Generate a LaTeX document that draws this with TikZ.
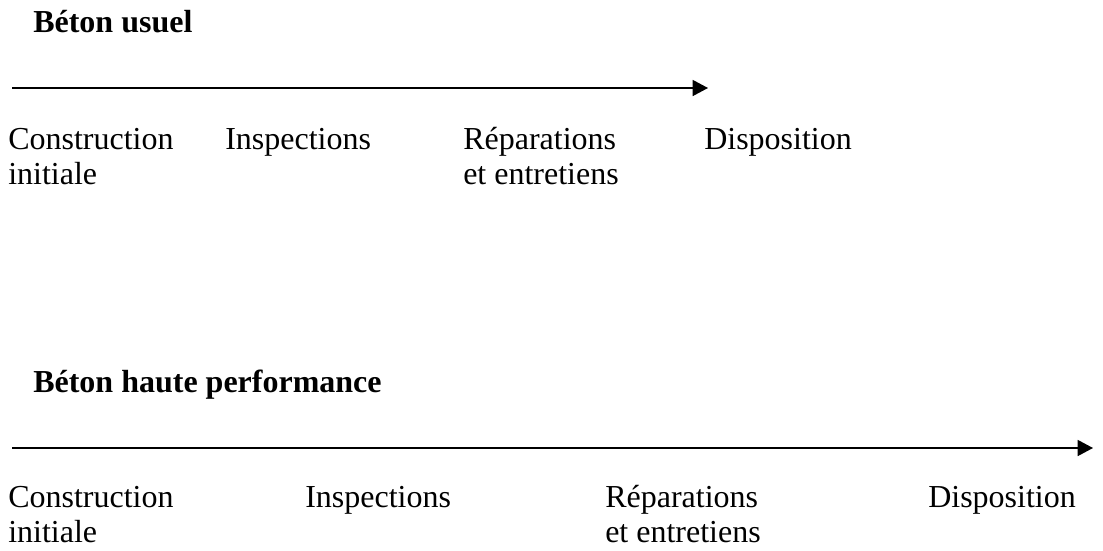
\documentclass[tikz,border=0pt]{standalone}
\usepackage{fontspec}
\setmainfont{Liberation Serif}
\usetikzlibrary{arrows.meta, positioning}
\tikzset{
    phase/.style={anchor=base west, inner sep=0pt, align=left,
        font=\fontsize{24}{26.25}\selectfont},
    titre/.style={anchor=base west, inner sep=0pt,
        font=\fontsize{24}{26.25}\selectfont\bfseries},
    axe/.style={-{Triangle[length=11.5pt, width=12pt]}, line width=1.1pt},
}

\begin{document}
\begin{tikzpicture}[x=0.75pt, y=-0.75pt]
    \useasboundingbox (0,0) rectangle (1103,550);

    % Beton usuel (base = last line of the node)
    \node[titre] (titreU) at (33,32) {Béton usuel};
    \coordinate (debutU) at (12,88);
    \coordinate (finU) at (708,88);
    \draw[axe] (debutU) -- (finU);

    \node[phase] (constrU) at (8,184) {Construction\\initiale};
    \node[phase] (inspU) at (225,149) {Inspections};
    \node[phase] (reparU) at (463,184) {Réparations\\et entretiens};
    \node[phase] (dispoU) at (704,149) {Disposition};

    % Beton haute performance
    \node[titre] (titreH) at (33,392) {Béton haute performance};
    \coordinate (debutH) at (12,448);
    \coordinate (finH) at (1093,448);
    \draw[axe] (debutH) -- (finH);

    \node[phase] (constrH) at (8,542) {Construction\\initiale};
    \node[phase] (inspH) at (305,507) {Inspections};
    \node[phase] (reparH) at (605,542) {Réparations\\et entretiens};
    \node[phase] (dispoH) at (928,507) {Disposition};
\end{tikzpicture}
\end{document}
